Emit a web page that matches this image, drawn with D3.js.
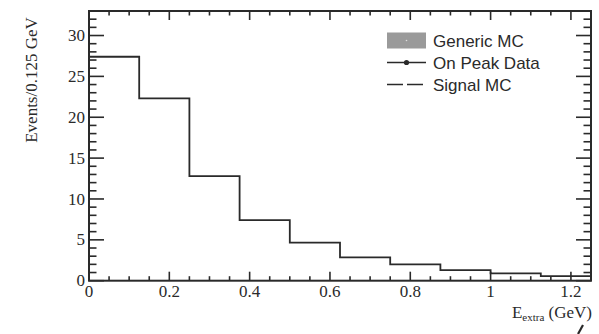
<!DOCTYPE html>
<html>
<head>
<meta charset="utf-8">
<script src="https://cdn.jsdelivr.net/npm/d3@7"></script>
<style>
  html, body { margin: 0; padding: 0; background: #fff; }
  svg { display: block; }
</style>
</head>
<body>
<svg id="chart" width="599" height="334"></svg>
<script>
// E_extra histogram: bin lower edges (GeV) and event counts per 0.125 GeV
const binEdges = [0, 0.125, 0.25, 0.375, 0.5, 0.625, 0.75, 0.875, 1.0, 1.125, 1.25];
const counts = [27.4, 22.3, 12.8, 7.4, 4.65, 2.85, 2.0, 1.3, 0.9, 0.55];
const xTicks = [0, 0.2, 0.4, 0.6, 0.8, 1.0, 1.2];
const xTickLabels = ["0", "0.2", "0.4", "0.6", "0.8", "1", "1.2"];
const yTicks = [0, 5, 10, 15, 20, 25, 30];
const legendLabels = ["Generic MC", "On Peak Data", "Signal MC"];

const svg = d3.select("#chart");
const W = 599, H = 334;
const m = { left: 89, right: 8, top: 11, bottom: 53.3 };
const x0 = m.left, x1 = W - m.right, y0 = H - m.bottom, y1 = m.top;

const x = d3.scaleLinear().domain([0, 1.25]).range([x0, x1]);
const y = d3.scaleLinear().domain([0, 33]).range([y0, y1]);

const ink = "#2a2a2a";
const serif = "'Liberation Serif', 'Times New Roman', serif";
const sans = "'Liberation Sans', Arial, sans-serif";

// histogram outline as a step path
const steps = [];
counts.forEach((c, i) => {
  steps.push([binEdges[i], c]);
  steps.push([binEdges[i + 1], c]);
});
const line = d3.line().x(d => x(d[0])).y(d => y(d[1]));
svg.append("path")
  .attr("d", line([[0, 0]].concat(steps).concat([[1.25, counts[counts.length - 1]]])))
  .attr("fill", "none")
  .attr("stroke", ink)
  .attr("stroke-width", 1.8);

// tick marks on all four sides, pointing inward
const g = svg.append("g").attr("stroke", ink);
const xMinor = d3.range(0, 1.2501, 0.05);
const yMinor = d3.range(0, 33.01, 1);
xMinor.forEach(v => {
  const major = xTicks.some(t => Math.abs(t - v) < 1e-6);
  const len = major ? 9 : 4.5;
  g.append("line").attr("x1", x(v)).attr("x2", x(v)).attr("y1", y0).attr("y2", y0 - len).attr("stroke-width", 1.6);
  g.append("line").attr("x1", x(v)).attr("x2", x(v)).attr("y1", y1).attr("y2", y1 + len).attr("stroke-width", 1.6);
});
yMinor.forEach(v => {
  const major = v % 5 === 0;
  const len = major ? 15 : 7.5;
  g.append("line").attr("x1", x0).attr("x2", x0 + len).attr("y1", y(v)).attr("y2", y(v)).attr("stroke-width", 1.6);
  g.append("line").attr("x1", x1).attr("x2", x1 - len).attr("y1", y(v)).attr("y2", y(v)).attr("stroke-width", 1.6);
});

// frame
svg.append("rect")
  .attr("x", x0).attr("y", y1).attr("width", x1 - x0).attr("height", y0 - y1)
  .attr("fill", "none").attr("stroke", ink).attr("stroke-width", 2);

// tick labels
svg.append("g").selectAll("text").data(xTicks).join("text")
  .attr("x", d => x(d)).attr("y", y0 + 16)
  .attr("text-anchor", "middle")
  .attr("font-family", serif).attr("font-size", 17).attr("fill", ink)
  .text((d, i) => xTickLabels[i]);
svg.append("g").selectAll("text").data(yTicks).join("text")
  .attr("x", x0 - 4).attr("y", d => y(d)).attr("dy", "0.33em")
  .attr("text-anchor", "end")
  .attr("font-family", serif).attr("font-size", 17).attr("fill", ink)
  .text(d => d);

// axis titles
svg.append("text")
  .attr("transform", "translate(37,80) rotate(-90)")
  .attr("text-anchor", "middle")
  .attr("font-family", serif).attr("font-size", 17).attr("fill", ink)
  .text("Events/0.125 GeV");

const xt = svg.append("text")
  .attr("x", 592).attr("y", 318)
  .attr("text-anchor", "end")
  .attr("font-family", serif).attr("font-size", 17).attr("fill", ink);
xt.append("tspan").text("E");
xt.append("tspan").attr("font-size", 11).attr("dy", 3).text("extra");
xt.append("tspan").attr("dy", -3).text(" (GeV)");

// stray stroke below the axis title
svg.append("line")
  .attr("x1", 578).attr("y1", 334).attr("x2", 583).attr("y2", 325)
  .attr("stroke", ink).attr("stroke-width", 2.2);

// legend
const lg = svg.append("g");
const lx = 387, lw = 39, rows = [40.5, 62.5, 84.5];
lg.append("rect").attr("x", lx).attr("y", rows[0] - 8).attr("width", lw).attr("height", 16).attr("fill", "#9a9a9a");
lg.append("circle").attr("cx", lx + lw / 2).attr("cy", rows[0]).attr("r", 0.8).attr("fill", "#ddd");
lg.append("line").attr("x1", lx).attr("x2", lx + lw).attr("y1", rows[1]).attr("y2", rows[1]).attr("stroke", ink).attr("stroke-width", 1.6);
lg.append("circle").attr("cx", lx + lw / 2).attr("cy", rows[1]).attr("r", 2.6).attr("fill", ink);
lg.append("line").attr("x1", lx).attr("x2", lx + lw).attr("y1", rows[2]).attr("y2", rows[2])
  .attr("stroke", ink).attr("stroke-width", 1.6).attr("stroke-dasharray", "16,4");
lg.selectAll("text.lab").data(legendLabels).join("text")
  .attr("class", "lab")
  .attr("x", 433).attr("y", (d, i) => rows[i]).attr("dy", "0.36em")
  .attr("font-family", sans).attr("font-size", 17).attr("fill", ink)
  .text(d => d);
</script>
</body>
</html>
